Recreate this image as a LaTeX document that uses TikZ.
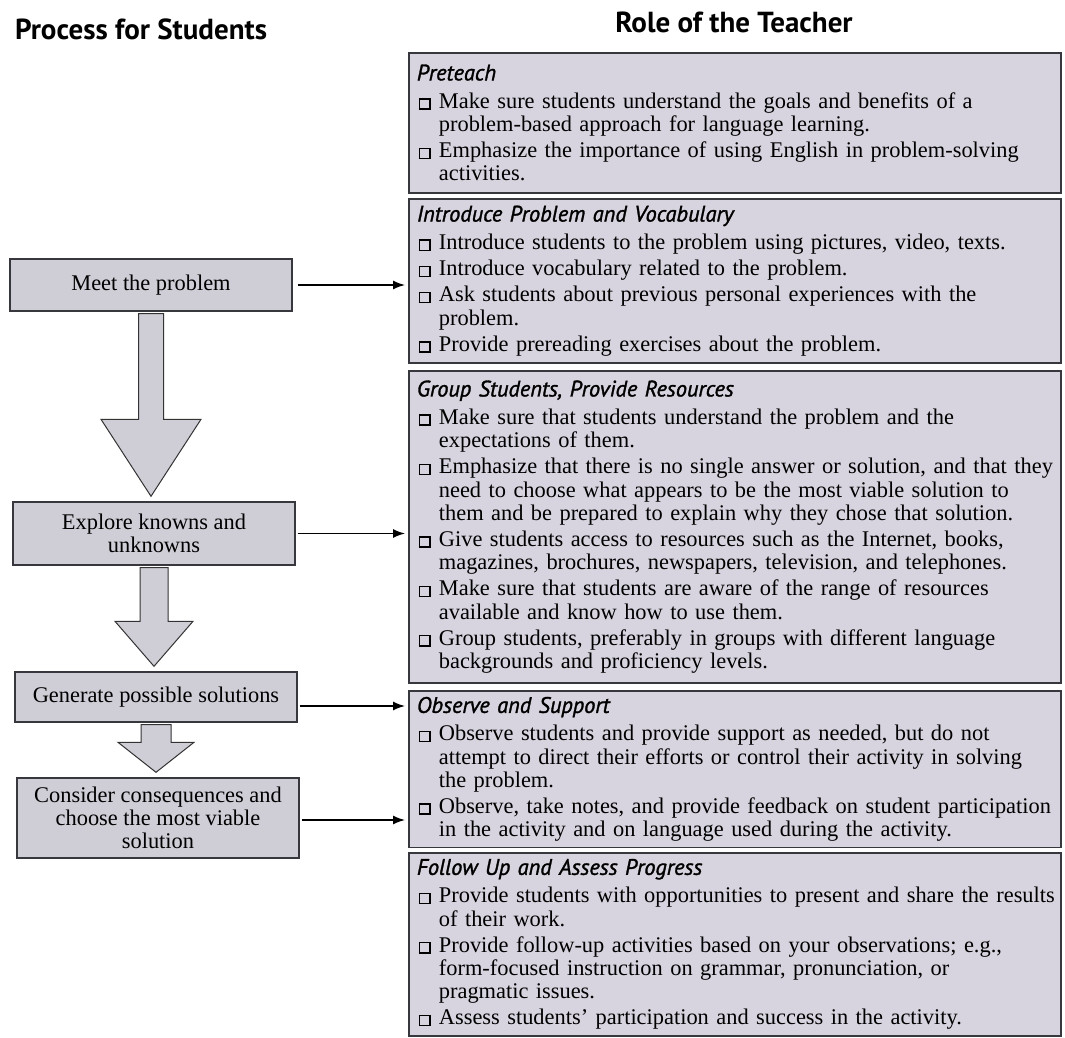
\documentclass[tikz,border=0pt]{standalone}
\usepackage{fontspec}
\setmainfont{Liberation Serif}
\newfontfamily\headfont{PT Sans}
\newfontfamily\headitfont{PT Sans Italic}[FakeBold=1.4]
\usetikzlibrary{arrows.meta,calc}
\definecolor{boxgrey}{RGB}{215,212,223}
\definecolor{stepgrey}{RGB}{207,205,214}
\definecolor{framegrey}{RGB}{55,55,62}

% small hollow square used as bullet
\newcommand{\chkbox}{{\setlength{\fboxsep}{0pt}\setlength{\fboxrule}{0.7pt}\fbox{\rule{0pt}{4.4pt}\rule{4.4pt}{0pt}}}}
\newcommand{\tchitem}[1]{\par\vspace{1.5pt}\hangindent=11pt\hangafter=1\noindent\makebox[11pt][l]{\hspace{1pt}\chkbox}\mbox{#1}}
\newcommand{\contline}[1]{\newline\mbox{#1}}
\newcommand{\boxhead}[1]{{\headitfont\fontsize{11.2}{11.6}\selectfont #1}\par\vspace{0.9pt}}
% block arrow between two steps: from, to, shaft half, head half, head length
\newcommand{\stepdown}[5]{%
  \draw[blockarr] let \p1=(#1.south), \p2=(#2.north) in
    (\x1-#3,\y1-1pt) -- (\x1+#3,\y1-1pt) -- (\x1+#3,\y2+2.5pt+#5) -- (\x1+#4,\y2+2.5pt+#5)
    -- (\x1,\y2+2.5pt) -- (\x1-#4,\y2+2.5pt+#5) -- (\x1-#3,\y2+2.5pt+#5) -- cycle;}

\begin{document}
\begin{tikzpicture}[x=0.5pt, y=-0.5pt,
    every node/.style={font=\fontsize{11.2}{11.6}\selectfont},
    title/.style={font=\headfont\bfseries\fontsize{14.5}{16}\selectfont},
    stepbox/.style={draw=framegrey, line width=0.7pt, fill=stepgrey, align=center, minimum width=141pt, inner sep=2pt},
    rolebox/.style={draw=framegrey, line width=0.9pt, fill=boxgrey, anchor=north west, text width=318pt, inner xsep=4pt, inner ysep=3pt, align=left},
    blockarr/.style={draw=black!80, line width=0.5pt, fill=stepgrey},
    conn/.style={-{Latex[length=6pt,width=4.5pt]}, line width=0.7pt, shorten >=1.5pt}]
    \useasboundingbox[fill=white] (0,0) rectangle (1065,1038);

    % column titles
    \node[title] at (141,29) (ttlstud) {Process for Students};
    \node[title] at (734,22) (ttlteach) {Role of the Teacher};

    % process for students
    \node[stepbox, minimum height=26pt] at (151,285) (meet) {Meet the problem};
    \node[stepbox, minimum height=31.5pt] at (154,533.5) (explore) {Explore knowns and\\unknowns};
    \node[stepbox, minimum height=25pt] at (156,697) (generate) {Generate possible solutions};
    \node[stepbox, minimum height=40pt] at (158,818) (consider) {Consider consequences and\\choose the most viable\\solution};

    \stepdown{meet}{explore}{6.25pt}{25pt}{38.5pt}
    \stepdown{explore}{generate}{7pt}{19.5pt}{22.5pt}
    \stepdown{generate}{consider}{7.5pt}{19pt}{15pt}

    % role of the teacher
    \node[rolebox, minimum height=70pt] at (408,52) (pre) {\boxhead{Preteach}%
      \tchitem{Make sure students understand the goals and benefits of a}\contline{problem-based approach for language learning.}
      \tchitem{Emphasize the importance of using English in problem-solving}\contline{activities.}\par};
    \node[rolebox, minimum height=82pt] at (408,198) (intro) {\boxhead{Introduce Problem and Vocabulary}%
      \tchitem{Introduce students to the problem using pictures, video, texts.}
      \tchitem{Introduce vocabulary related to the problem.}
      \tchitem{Ask students about previous personal experiences with the}\contline{problem.}
      \tchitem{Provide prereading exercises about the problem.}\par};
    \node[rolebox, minimum height=156pt] at (408,370) (group) {\boxhead{Group Students, Provide Resources}%
      \tchitem{Make sure that students understand the problem and the}\contline{expectations of them.}
      \tchitem{Emphasize that there is no single answer or solution, and that they}\contline{need to choose what appears to be the most viable solution to}\contline{them and be prepared to explain why they chose that solution.}
      \tchitem{Give students access to resources such as the Internet, books,}\contline{magazines, brochures, newspapers, television, and telephones.}
      \tchitem{Make sure that students are aware of the range of resources}\contline{available and know how to use them.}
      \tchitem{Group students, preferably in groups with different language}\contline{backgrounds and proficiency levels.}\par};
    \node[rolebox, minimum height=77.5pt] at (408,690) (obs) {\boxhead{Observe and Support}%
      \tchitem{Observe students and provide support as needed, but do not}\contline{attempt to direct their efforts or control their activity in solving}\contline{the problem.}
      \tchitem{Observe, take notes, and provide feedback on student participation}\contline{in the activity and on language used during the activity.}\par};
    \node[rolebox, minimum height=90pt] at (408,852) (follow) {\boxhead{Follow Up and Assess Progress}%
      \tchitem{Provide students with opportunities to present and share the results}\contline{of their work.}
      \tchitem{Provide follow-up activities based on your observations; e.g.,}\contline{form-focused instruction on grammar, pronunciation, or}\contline{pragmatic issues.}
      \tchitem{Assess students' participation and success in the activity.}\par};

    % links from steps to teacher roles
    \draw[conn] ([xshift=2.5pt]meet.east) -- (meet.east -| intro.west);
    \draw[conn] ([xshift=1pt]explore.east) -- (explore.east -| group.west);
    \draw[conn] ([xshift=1pt,yshift=-4.5pt]generate.east) -- ([yshift=-4.5pt]generate.east -| obs.west);
    \draw[conn] ([xshift=1pt,yshift=-1pt]consider.east) -- ([yshift=-1pt]consider.east -| obs.west);
\end{tikzpicture}
\end{document}
